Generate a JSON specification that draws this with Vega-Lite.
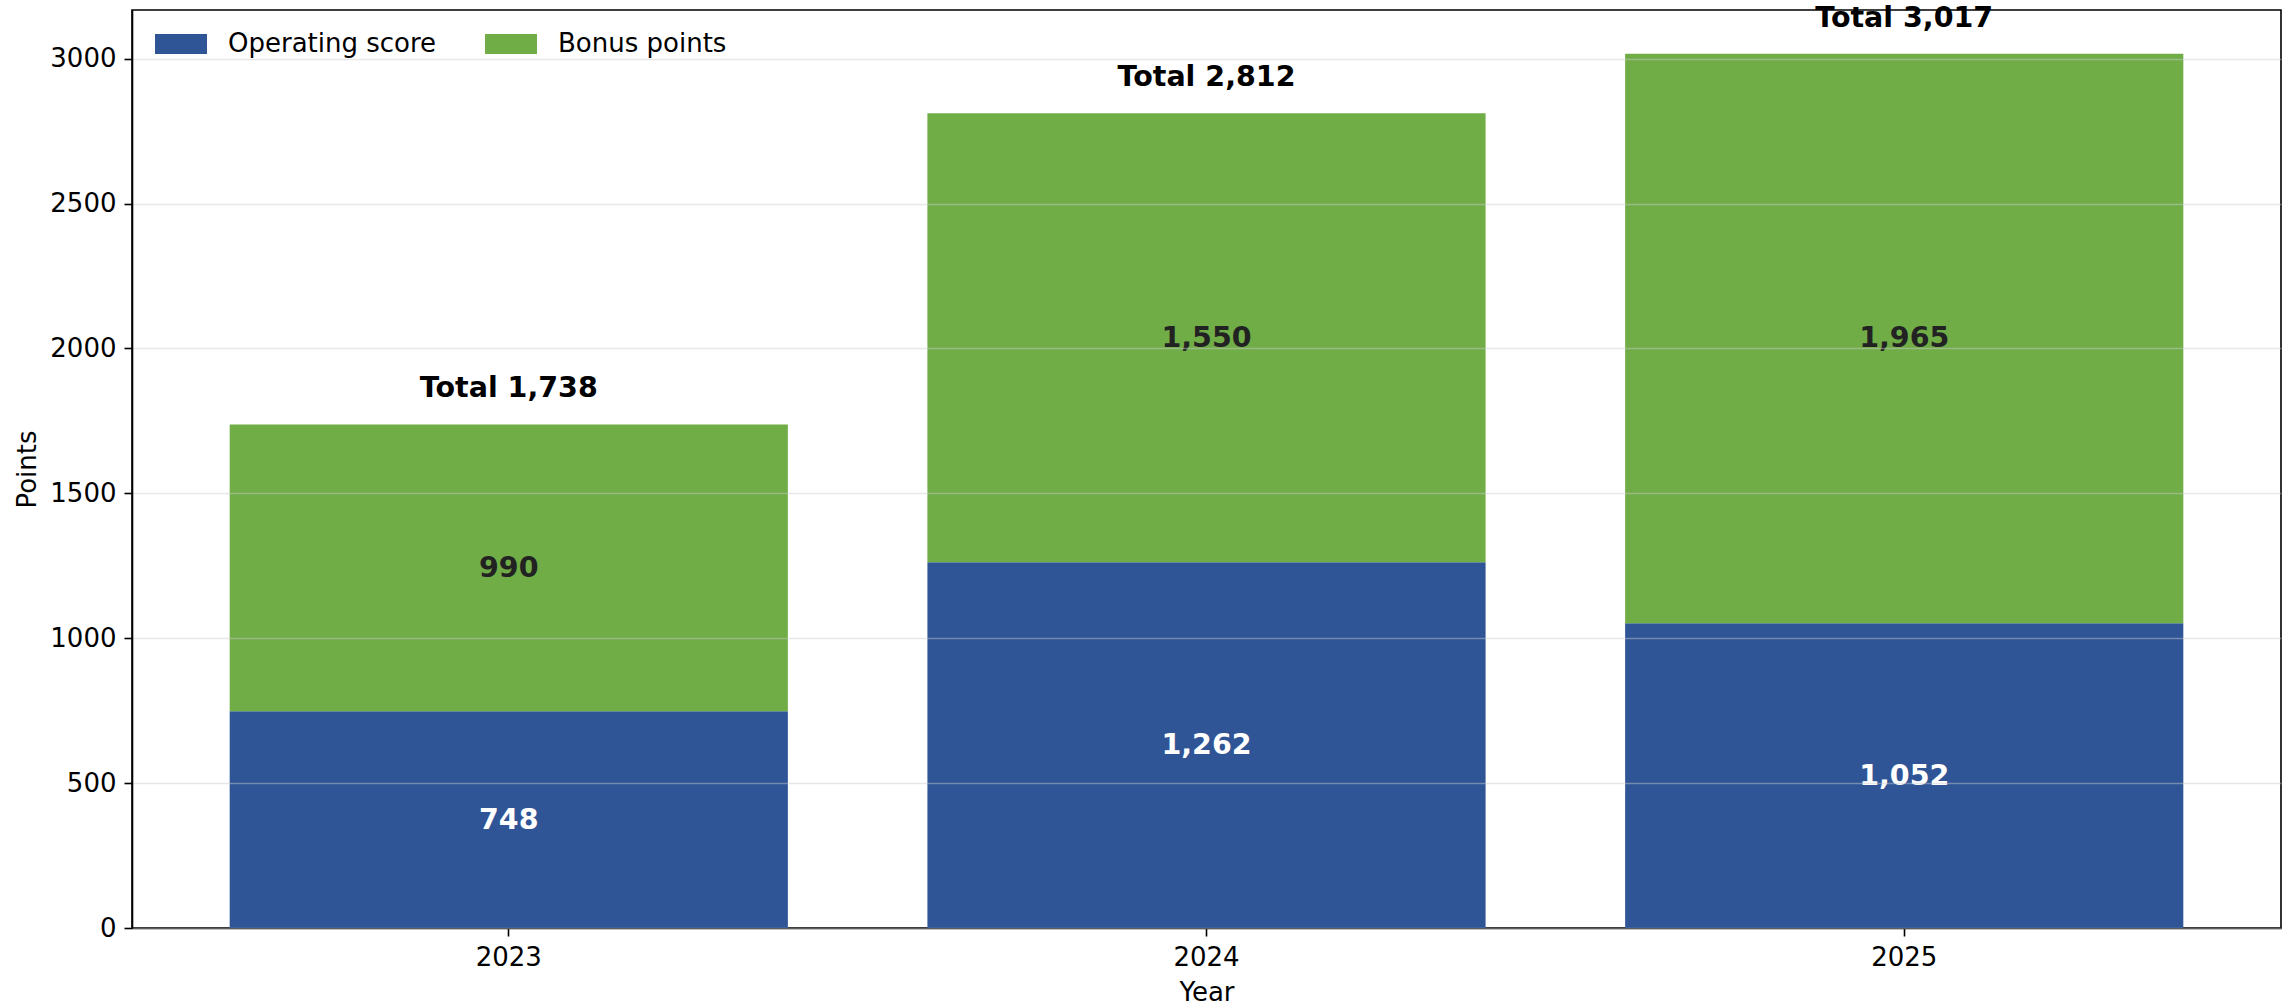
{
  "$schema": "https://vega.github.io/schema/vega-lite/v6.json",
  "autosize": {"type": "none"},
  "padding": {"left": 132, "top": 10, "right": 14, "bottom": 77},
  "width": 2149,
  "height": 918,
  "background": "white",
  "config": {
    "font": "DejaVu Sans",
    "view": {"stroke": "black", "strokeWidth": 1.6},
    "axis": {
      "labelFont": "DejaVu Sans",
      "labelFontSize": 26,
      "labelColor": "black",
      "titleFont": "DejaVu Sans",
      "titleFontSize": 26,
      "titleFontWeight": "normal",
      "titleColor": "black",
      "domainColor": "black",
      "domainWidth": 1.6,
      "tickColor": "black",
      "tickWidth": 1.6,
      "tickSize": 8
    }
  },
  "data": {
    "values": [
      {"year": "2023", "series": "Operating score", "value": 748},
      {"year": "2023", "series": "Bonus points", "value": 990},
      {"year": "2024", "series": "Operating score", "value": 1262},
      {"year": "2024", "series": "Bonus points", "value": 1550},
      {"year": "2025", "series": "Operating score", "value": 1052},
      {"year": "2025", "series": "Bonus points", "value": 1965}
    ]
  },
  "transform": [
    {"stack": "value", "groupby": ["year"], "sort": [{"field": "series", "order": "descending"}], "as": ["v0", "v1"]}
  ],
  "encoding": {
    "x": {
      "field": "year",
      "type": "nominal",
      "title": "Year",
      "scale": {"paddingInner": 0.2, "paddingOuter": 0.14},
      "axis": {"labelAngle": 0, "labelPadding": 8, "titlePadding": 9, "grid": false}
    }
  },
  "layer": [
    {
      "mark": {"type": "bar"},
      "encoding": {
        "y": {
          "field": "v1",
          "type": "quantitative",
          "title": "Points",
          "scale": {"domain": [0, 3168], "nice": false, "zero": true},
          "axis": {
            "values": [0, 500, 1000, 1500, 2000, 2500, 3000],
            "format": "d",
            "grid": true,
            "gridColor": "#cccccc",
            "gridOpacity": 0.45,
            "gridWidth": 1.5,
            "zindex": 1,
            "labelPadding": 8,
            "titlePadding": 9
          }
        },
        "y2": {"field": "v0"},
        "color": {
          "field": "series",
          "type": "nominal",
          "scale": {"domain": ["Operating score", "Bonus points"], "range": ["#2F5597", "#70AD47"]},
          "legend": {
            "title": null,
            "orient": "none",
            "legendX": 23,
            "legendY": 8,
            "direction": "horizontal",
            "padding": 0,
            "labelFont": "DejaVu Sans",
            "labelFontSize": 26,
            "labelColor": "black",
            "labelLimit": 0,
            "labelOffset": 21,
            "columnPadding": 48,
            "symbolType": "M-1,-0.385H1V0.385H-1Z",
            "symbolSize": 2704,
            "symbolStrokeWidth": 0,
            "symbolOpacity": 1
          }
        }
      }
    },
    {
      "transform": [{"calculate": "(datum.v0 + datum.v1) / 2", "as": "mid"}],
      "mark": {"type": "text", "font": "DejaVu Sans", "fontSize": 28.5, "fontWeight": "bold", "baseline": "middle", "align": "center"},
      "encoding": {
        "y": {"field": "mid", "type": "quantitative"},
        "text": {"field": "value", "type": "quantitative", "format": ",d"},
        "color": {
          "condition": {"test": "datum.series === 'Operating score'", "value": "white"},
          "value": "#222222"
        }
      }
    },
    {
      "transform": [
        {"aggregate": [{"op": "sum", "field": "value", "as": "total"}], "groupby": ["year"]},
        {"calculate": "'Total ' + format(datum.total, ',')", "as": "label"}
      ],
      "mark": {"type": "text", "font": "DejaVu Sans", "fontSize": 28.5, "fontWeight": "bold", "baseline": "alphabetic", "align": "center", "dy": -27, "color": "black"},
      "encoding": {
        "y": {"field": "total", "type": "quantitative"},
        "text": {"field": "label", "type": "nominal"}
      }
    }
  ]
}
